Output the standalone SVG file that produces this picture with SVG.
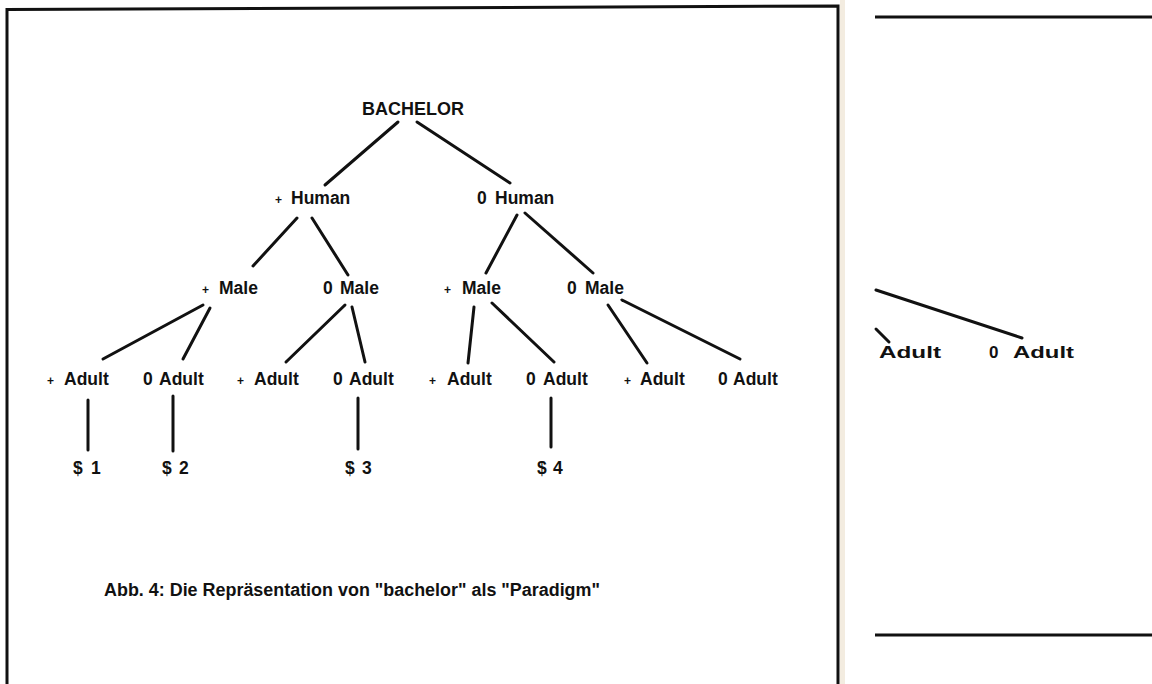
<svg xmlns="http://www.w3.org/2000/svg" width="1152" height="684" viewBox="0 0 1152 684">
<style>
.lbl{font-family:"Liberation Sans",Arial,sans-serif;font-weight:bold;font-size:17.5px;fill:#111}
.pl{font-size:12px}
.edge{stroke:#111;stroke-width:3;stroke-linecap:round;fill:none}
.frame{stroke:#111;stroke-width:3;fill:none}
.cap{font-family:"Liberation Sans",Arial,sans-serif;font-weight:bold;font-size:17.5px;fill:#111}
.rp{font-family:"Liberation Sans",Arial,sans-serif;font-weight:bold;font-size:17px;fill:#111}
</style>
<rect x="0" y="0" width="1152" height="684" fill="#ffffff"/>
<rect x="840" y="0" width="5" height="684" fill="#f3ece0"/>
<g id="frame">
<path class="frame" d="M7,690 L7,9.5 L838,6 L838,690"/>
<line class="frame" x1="875" y1="17" x2="1152" y2="17"/>
<line class="frame" x1="875" y1="635" x2="1152" y2="635"/>
</g>
<g id="connectors">
<line class="edge" x1="398" y1="122" x2="325" y2="185"/>
<line class="edge" x1="417" y1="122" x2="510" y2="183"/>
<line class="edge" x1="297" y1="218" x2="253" y2="266"/>
<line class="edge" x1="312" y1="218" x2="348" y2="275"/>
<line class="edge" x1="517" y1="215" x2="486" y2="273"/>
<line class="edge" x1="525" y1="213" x2="593" y2="273"/>
<line class="edge" x1="203" y1="305" x2="103" y2="359"/>
<line class="edge" x1="210" y1="308" x2="183" y2="359"/>
<line class="edge" x1="345" y1="305" x2="286" y2="362"/>
<line class="edge" x1="352" y1="307" x2="365" y2="362"/>
<line class="edge" x1="474" y1="307" x2="468" y2="363"/>
<line class="edge" x1="492" y1="303" x2="554" y2="362"/>
<line class="edge" x1="608" y1="305" x2="647" y2="363"/>
<line class="edge" x1="622" y1="300" x2="740" y2="359"/>
<line class="edge" x1="88" y1="400" x2="88" y2="450"/>
<line class="edge" x1="173" y1="396" x2="173" y2="451"/>
<line class="edge" x1="358" y1="398" x2="358" y2="449"/>
<line class="edge" x1="551" y1="398" x2="551" y2="447"/>
<line class="edge" x1="876" y1="290" x2="1022" y2="338"/>
<line class="edge" x1="876" y1="329" x2="889" y2="342"/>
</g>
<g id="n-bachelor"><text class="lbl" x="362" y="115" textLength="102" lengthAdjust="spacingAndGlyphs">BACHELOR</text></g>
<g id="n-phuman"><text class="lbl" y="204"><tspan class="pl" x="275">+</tspan><tspan x="291">Human</tspan></text></g>
<g id="n-0human"><text class="lbl" y="204"><tspan x="477">0</tspan><tspan x="495">Human</tspan></text></g>
<g id="n-pmale1"><text class="lbl" y="294"><tspan class="pl" x="202">+</tspan><tspan x="219">Male</tspan></text></g>
<g id="n-0male1"><text class="lbl" y="294"><tspan x="323">0</tspan><tspan x="340">Male</tspan></text></g>
<g id="n-pmale2"><text class="lbl" y="294"><tspan class="pl" x="444">+</tspan><tspan x="462">Male</tspan></text></g>
<g id="n-0male2"><text class="lbl" y="294"><tspan x="567">0</tspan><tspan x="585">Male</tspan></text></g>
<g id="n-a1"><text class="lbl" y="385"><tspan class="pl" x="47">+</tspan><tspan x="64">Adult</tspan></text></g>
<g id="n-a2"><text class="lbl" y="385"><tspan x="143">0</tspan><tspan x="159">Adult</tspan></text></g>
<g id="n-a3"><text class="lbl" y="385"><tspan class="pl" x="237">+</tspan><tspan x="254">Adult</tspan></text></g>
<g id="n-a4"><text class="lbl" y="385"><tspan x="333">0</tspan><tspan x="349">Adult</tspan></text></g>
<g id="n-a5"><text class="lbl" y="385"><tspan class="pl" x="429">+</tspan><tspan x="447">Adult</tspan></text></g>
<g id="n-a6"><text class="lbl" y="385"><tspan x="526">0</tspan><tspan x="543">Adult</tspan></text></g>
<g id="n-a7"><text class="lbl" y="385"><tspan class="pl" x="624">+</tspan><tspan x="640">Adult</tspan></text></g>
<g id="n-a8"><text class="lbl" y="385"><tspan x="718">0</tspan><tspan x="733">Adult</tspan></text></g>
<g id="n-s1"><text class="lbl" y="474"><tspan x="73">$</tspan><tspan x="91">1</tspan></text></g>
<g id="n-s2"><text class="lbl" y="474"><tspan x="162">$</tspan><tspan x="179">2</tspan></text></g>
<g id="n-s3"><text class="lbl" y="474"><tspan x="345">$</tspan><tspan x="362">3</tspan></text></g>
<g id="n-s4"><text class="lbl" y="474"><tspan x="537">$</tspan><tspan x="553">4</tspan></text></g>
<g id="caption"><text class="cap" x="104" y="596" textLength="496" lengthAdjust="spacingAndGlyphs">Abb. 4: Die Repräsentation von "bachelor" als "Paradigm"</text></g>
<g id="n-r1"><text class="rp" x="879" y="358" textLength="62" lengthAdjust="spacingAndGlyphs">Adult</text></g>
<g id="n-r2"><text class="rp" y="358"><tspan x="989">0</tspan><tspan x="1013" textLength="61" lengthAdjust="spacingAndGlyphs">Adult</tspan></text></g>
</svg>
